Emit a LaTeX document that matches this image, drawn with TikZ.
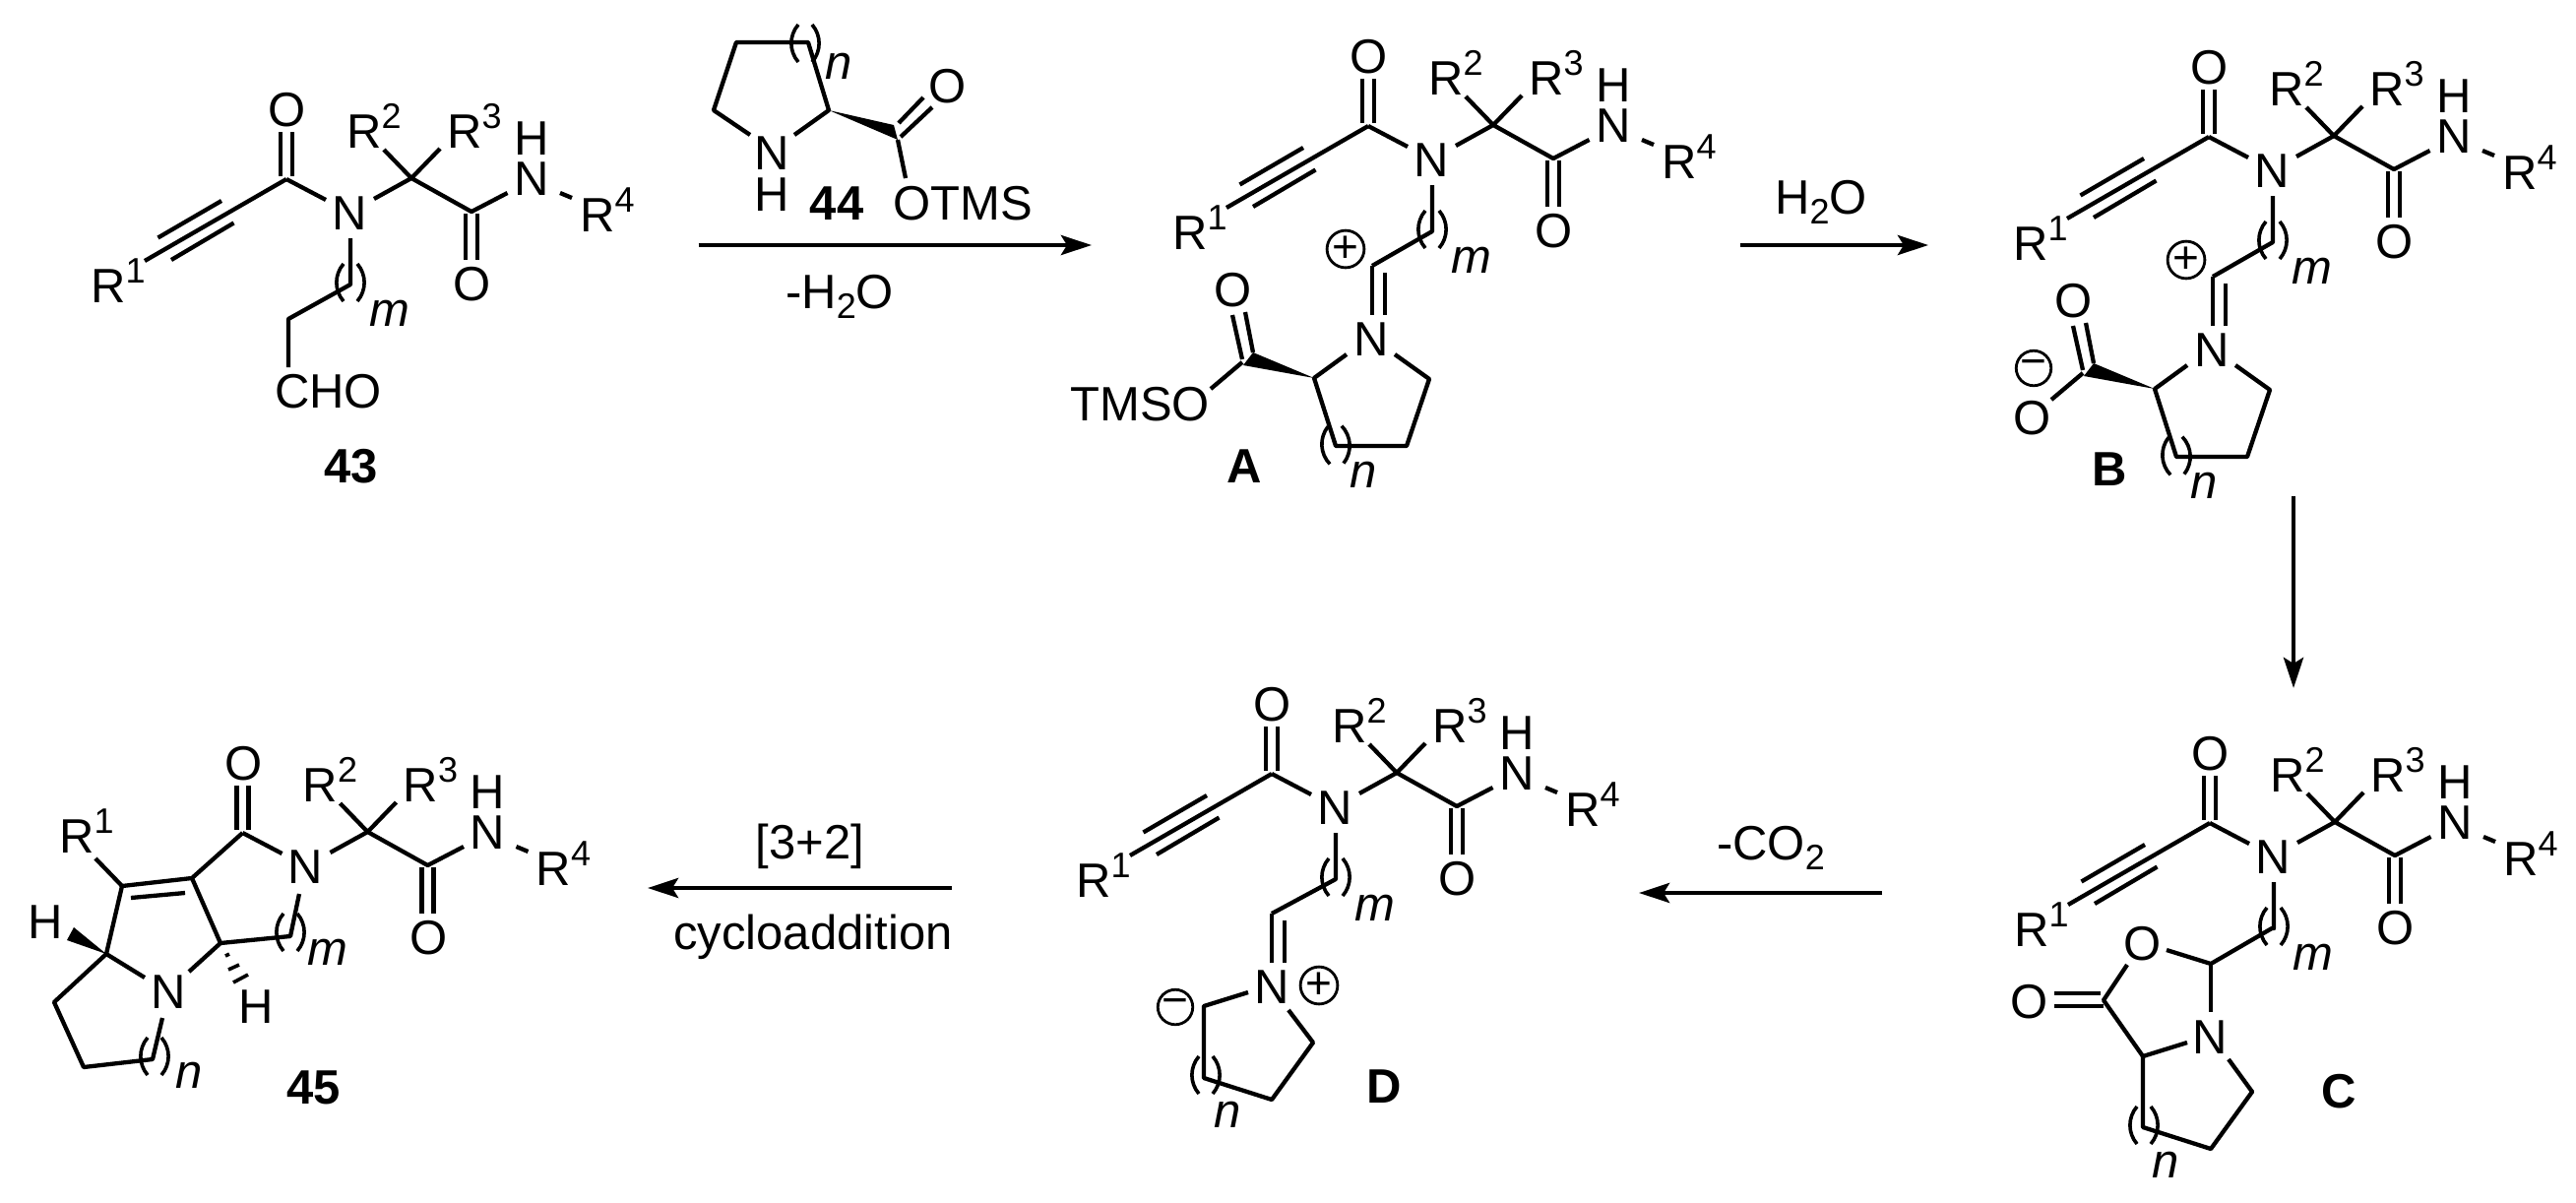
\documentclass[tikz,border=0pt]{standalone}
\usepackage{fontspec}
\setmainfont{Liberation Sans}
\usetikzlibrary{arrows.meta}
\newcommand{\bigf}{\fontsize{49}{52}\selectfont}
\newcommand{\smf}{\fontsize{36}{36}\selectfont}
\newcommand{\supr}[1]{\raisebox{20pt}{\smf #1}}
\newcommand{\subr}[1]{\raisebox{-10pt}{\smf #1}}
\tikzset{
  x=1pt,y=-1pt,
  bond/.style={line width=4.3pt,line join=round,line cap=butt},
  thinb/.style={line width=3.6pt,line cap=butt},
  atom/.style={inner sep=0pt,font=\bigf},
  ratom/.style={inner sep=0pt,font=\bigf,anchor=base west},
  varlab/.style={inner sep=0pt,font=\bigf\itshape},
  cmpd/.style={inner sep=0pt,font=\bigf\bfseries},
  chg/.style={circle,draw,line width=2.8pt,minimum size=35.5pt,inner sep=0pt,font=\fontsize{46}{46}\selectfont},
  rxn/.style={line width=4.6pt,-{Stealth[length=31pt,width=20pt,inset=6pt]}},
}
% bracket pair around a bond, optional rotation
\newcommand{\brk}[3][0]{%
  \begin{scope}[shift={(#2,#3)},rotate=#1]
    \draw[thinb] (-7,-19) .. controls (-16.5,-8) and (-16.5,8) .. (-7,19);
    \draw[thinb] (7,-19) .. controls (16.5,-8) and (16.5,8) .. (7,19);
  \end{scope}}
% amide part, origin on the acyl carbonyl carbon
\newcommand{\amide}[1]{%
  \draw[bond] (-6,-48)--(-6,-3) (6,-48)--(6,-3);
  \node[atom] (#1oa) at (1,-70) {O};
  \node[atom] (#1n) at (64,35) {N};
  \draw[bond] (0,0)--(40,21) (89,20)--(127,-1)--(188,33)--(224.5,14) (99,-30)--(127,-1)--(156,-31);
  \node[ratom] (#1rb) at (61,-31.5) {R\supr{2}};
  \node[ratom] (#1rc) at (163,-31.5) {R\supr{3}};
  \node[atom] (#1nh) at (249,0) {N};
  \node[atom] (#1h) at (249,-41) {H};
  \draw[bond] (278,14)--(290,19);
  \node[ratom] (#1rd) at (298,53.5) {R\supr{4}};
  \draw[bond] (182,35)--(182,82) (194,35)--(194,82);
  \node[atom] (#1ob) at (189,106.5) {O};
}
% alkyne part
\newcommand{\alkyne}[1]{%
  \draw[bond] (-144,83)--(0,0) (-130.5,59.5)--(-66,22) (-117,82)--(-53.5,44.5);
  \node[ratom] (#1ra) at (-199,125) {R\supr{1}};
}
% N-chain part
\newcommand{\nchain}[2]{%
  \node[varlab] (#1m) at (105,136) {m};
  \brk{65}{105}
  \draw[bond] (65,60)--(65,107)--#2;
}
% iminium acid part, shared by A and B
\newcommand{\iminium}[1]{%
  \draw[bond] (4,142)--(4,192) (17,149)--(17,192);
  \node[atom] (#1ni) at (3,217) {N};
  \node[chg] (#1plus) at (-23,125) {+};
  \draw[bond] (-22,232)--(-55,256)--(-33,325)--(39,325)--(62,257)--(27,232);
  \fill (-55,256)--(-117,230)--(-127,243)--cycle;
  \draw[bond] (-138,192)--(-128,237) (-125,189)--(-117,230);
  \node[atom] (#1oc) at (-137,167) {O};
  \draw[bond] (-128,240)--(-160,267);
  \brk[3]{-33}{324}
  \node[varlab] (#1nl) at (-5,354) {n};
}
\begin{document}
\begin{tikzpicture}
\useasboundingbox (0,0) rectangle (2617,1221);
\fill[white] (0,0) rectangle (2617,1221);

% ---------- 43
\begin{scope}[shift={(291,182)}]
  \amide{p}\alkyne{p}
  \nchain{p}{(2,142)--(2,191)}
\end{scope}
\node[atom,anchor=west] (cho) at (279,398) {CHO};
\node[cmpd] (c43) at (357,474) {43};

% ---------- 44
\node[atom] (n44) at (784,156) {N};
\node[atom] (h44) at (784,198) {H};
\draw[bond] (762,137)--(725,112)--(748,43)--(821,43)--(842,112)--(807,137);
\brk{818}{44}
\node[varlab] (n44l) at (852,67) {n};
\fill (842,112)--(908,127)--(912,142)--cycle;
\draw[bond] (913,125)--(938,99) (915,139)--(947,109) (912,142)--(920,181);
\node[atom] (o44) at (963,88) {O};
\node[cmpd] (c44) at (850,207) {44};
\node[atom,anchor=west] (otms) at (907,207) {OTMS};

% ---------- A
\begin{scope}[shift={(1390,128)}]
  \amide{a}\alkyne{a}
  \nchain{a}{(4,142)}
  \iminium{a}
\end{scope}
\node[atom,anchor=east] (tmso) at (1229,411) {TMSO};
\node[cmpd] (ca) at (1264.5,474) {A};

% ---------- B
\begin{scope}[shift={(2244,139)}]
  \amide{b}\alkyne{b}
  \nchain{b}{(4,142)}
  \iminium{b}
  \node[chg] (bminus) at (-178,235) {−};
  \node[atom] (bo) at (-179,286) {O};
\end{scope}
\node[cmpd] (cb) at (2143,477) {B};

% ---------- C
\begin{scope}[shift={(2245,836)}]
  \amide{c}\alkyne{c}
  \nchain{c}{(63,107)--(1,143)--(-44,129)}
  \draw[bond] (1,143)--(1,192);
  \node[atom] (cnr) at (0,218) {N};
  \draw[bond] (-23,223)--(-68,237)--(-68,309)--(1,331)--(43,273)--(19,240);
  \draw[bond] (-68,237)--(-108,180)--(-84,144);
  \node[atom] (cor) at (-68,123) {O};
  \draw[bond] (-158,173)--(-111,173) (-158,186)--(-108,186);
  \node[atom] (cod) at (-183,182) {O};
  \brk{-67}{307}
  \node[varlab] (cnl) at (-45,347) {n};
\end{scope}
\node[cmpd] (cc) at (2376,1109) {C};

% ---------- D
\begin{scope}[shift={(1292,786)}]
  \amide{d}\alkyne{d}
  \nchain{d}{(0,142)}
  \draw[bond] (0,142)--(0,192) (13,149)--(13,192);
  \node[atom] (dni) at (0,217) {N};
  \node[chg] (dplus) at (48,215) {+};
  \node[chg] (dminus) at (-98,237) {−};
  \draw[bond] (-24,222)--(-69,236)--(-69,309)--(0,331)--(42,273)--(17,240);
  \brk{-67}{306}
  \node[varlab] (dnl) at (-45,346) {n};
\end{scope}
\node[cmpd] (cd) at (1406,1104) {D};

% ---------- 45
\begin{scope}[shift={(246.5,846)}]
  \amide{e}
\end{scope}
\node[ratom] (era) at (60,866) {R\supr{1}};
\draw[bond] (246.5,846)--(195,892)--(124,900)--(97,872);
\draw[bond] (133,912)--(188,907);
\draw[bond] (124,900)--(108,969)--(147,993);
\draw[bond] (195,892)--(224,958)--(192,987);
\draw[bond] (304,908)--(295,951)--(224,958);
\brk{295}{947}
\node[varlab] (eml) at (333,967) {m};
\node[atom] (en) at (171,1008) {N};
\draw[bond] (108,969)--(55,1018)--(85,1084)--(155,1076)--(165,1034);
\brk{157}{1073}
\node[varlab] (enl) at (192,1092) {n};
\fill (108,969)--(68,955)--(75,942)--cycle;
\node[atom] (eh1) at (46,937) {H};
\draw[thinb] (229,971)--(233,969) (232,985)--(243,980) (237,998)--(252,990);
\node[atom] (eh2) at (260,1023) {H};
\node[cmpd] (c45) at (319,1105) {45};

% ---------- reaction arrows
\coordinate (a1s) at (709.5,249); \coordinate (a1e) at (1109,249);
\coordinate (a2s) at (1767.6,249); \coordinate (a2e) at (1959,249);
\coordinate (a3s) at (2330,504); \coordinate (a3e) at (2330,699);
\coordinate (a4s) at (1912,907); \coordinate (a4e) at (1665,907);
\coordinate (a5s) at (966.6,902); \coordinate (a5e) at (658,902);
\draw[rxn] (a1s)--(a1e);
\draw[rxn] (a2s)--(a2e);
\draw[rxn] (a3s)--(a3e);
\draw[rxn] (a4s)--(a4e);
\draw[rxn] (a5s)--(a5e);
\node[atom] (t1) at (853,301) {-H\subr{2}O};
\node[atom] (t2) at (1850,205) {H\subr{2}O};
\node[atom] (t4) at (1799,861) {-CO\subr{2}};
\node[atom] (t5) at (823,860) {[3+2]};
\node[atom] (t6) at (826,951.6) {cycloaddition};
\end{tikzpicture}
\end{document}
